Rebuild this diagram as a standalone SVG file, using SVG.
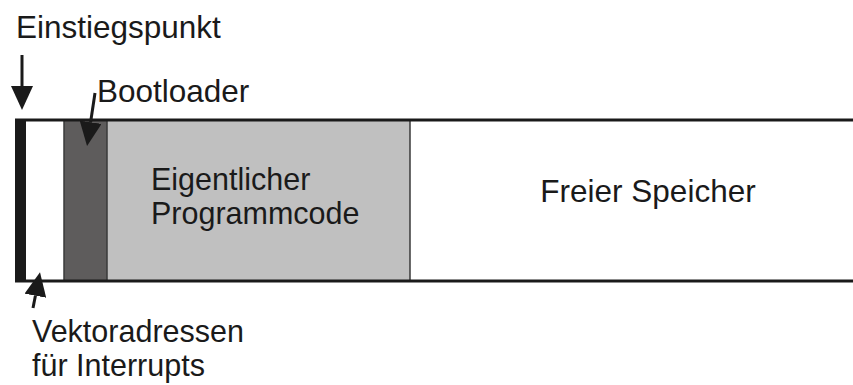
<svg xmlns="http://www.w3.org/2000/svg" width="853" height="385" viewBox="0 0 853 385">
<style>
text{font-family:"Liberation Sans",Arial,sans-serif;font-size:31.5px;fill:#1a1a1a}
.ml{font-size:30.5px}
.div{stroke:#3a3a3a;stroke-width:1.5}
.edge{stroke:#1a1a1a;stroke-width:3;fill:none;marker-end:url(#ah)}
</style>
<defs>
<marker id="ah" viewBox="0 0 24 22" refX="0" refY="11" markerWidth="24" markerHeight="22" markerUnits="userSpaceOnUse" orient="auto">
<path d="M0,0 L24,11 L0,22 z" fill="#1a1a1a"/>
</marker>
</defs>
<rect width="853" height="385" fill="#fff"/>
<g id="memory">
<g id="vektoren"><rect x="26" y="120" width="38" height="161" fill="#fff"/></g>
<g id="bootloader"><rect x="64" y="120" width="43" height="161" fill="#5e5c5c"/></g>
<g id="programmcode"><rect x="107" y="120" width="303" height="161" fill="#c0c0c0"/>
<text class="ml" x="151" y="190">Eigentlicher</text><text class="ml" x="151" y="224">Programmcode</text></g>
<g id="frei"><rect x="410" y="120" width="443" height="161" fill="#fff"/>
<text x="648" y="202" text-anchor="middle">Freier Speicher</text></g>
<line class="div" x1="64" y1="120" x2="64" y2="281"/>
<line class="div" x1="107" y1="120" x2="107" y2="281"/>
<line class="div" x1="410" y1="120" x2="410" y2="281"/>
<line x1="15" y1="120" x2="853" y2="120" stroke="#1a1a1a" stroke-width="3"/>
<line x1="15" y1="281" x2="853" y2="281" stroke="#1a1a1a" stroke-width="3"/>
<rect id="entry-bar" x="15" y="119" width="11" height="163" fill="#1a1a1a"/>
</g>
<g id="labels">
<text id="l-einstieg" x="16" y="38">Einstiegspunkt</text>
<text id="l-boot" x="97" y="102">Bootloader</text>
<text id="l-vektor" class="ml" x="32" y="342">Vektoradressen</text>
<text id="l-vektor2" class="ml" x="32" y="376">für Interrupts</text>
</g>
<g id="connectors">
<line class="edge" x1="22" y1="55" x2="22" y2="86"/>
<line class="edge" x1="95" y1="93" x2="90.6" y2="122.3"/>
<line class="edge" x1="33" y1="308" x2="35.4" y2="295.7"/>
</g>
</svg>
